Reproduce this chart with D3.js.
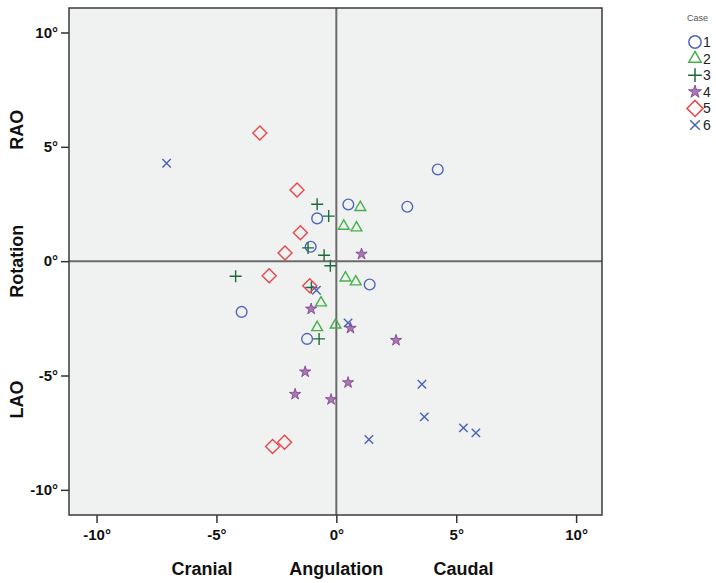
<!DOCTYPE html>
<html>
<head>
<meta charset="utf-8">
<script src="https://cdn.jsdelivr.net/npm/d3@7"></script>
<style>
  body { margin: 0; background: #fff; }
  text { font-family: "Liberation Sans", Arial, sans-serif; }
</style>
</head>
<body>
<div id="scene"></div>
<script>
// angulation (x) / rotation (y) in degrees, per case
var case1 = [[4.23,4.01],[0.5,2.48],[2.96,2.38],[-0.8,1.87],[-1.07,0.63],[1.39,-1.02],[-3.95,-2.22],[-1.22,-3.4]];
var case2 = [[1.0,2.35],[0.31,1.53],[0.84,1.46],[0.38,-0.73],[0.81,-0.9],[-0.64,-1.82],[-0.8,-2.9],[-0.03,-2.79]];
var case3 = [[-0.8,2.49],[-0.32,1.97],[-1.18,0.58],[-0.51,0.26],[-0.25,-0.2],[-4.2,-0.66],[-1.04,-1.15],[-0.72,-3.4]];
var case4 = [[1.05,0.31],[-1.05,-2.09],[0.59,-2.93],[2.49,-3.46],[-1.3,-4.84],[0.49,-5.31],[-1.72,-5.82],[-0.22,-6.05]];
var case5 = [[-3.19,5.6],[-1.64,3.11],[-1.5,1.24],[-2.14,0.36],[-2.8,-0.64],[-1.11,-1.08],[-2.66,-8.1],[-2.16,-7.92]];
var case6 = [[-7.08,4.28],[-0.83,-1.27],[0.49,-2.7],[3.57,-5.38],[3.67,-6.81],[5.3,-7.29],[5.82,-7.51],[1.36,-7.8]];

var caseNames = ["1","2","3","4","5","6"];
var tickValues = [-10,-5,0,5,10];
var xTitles = ["Cranial","Angulation","Caudal"];
var yTitles = ["RAO","Rotation","LAO"];

var ctx = {
  w: 716,
  h: 583,
  left: 69,
  right: 602,
  top: 8,
  bottom: 515
};

var allCases = [case1, case2, case3, case4, case5, case6];

// marker look per case
var markers = [
  {type: d3.symbolCircle, size: 90, color: "#5066b8", fill: "none"},
  {type: d3.symbolTriangle, size: 50, color: "#45b04a", fill: "none"},
  {type: "plus", size: 6, color: "#1d6a3c", fill: "none"},
  {type: d3.symbolStar, size: 40, color: "#7d3a8c", fill: "#a877b4"},
  {type: "diamond", size: 7, color: "#e8474b", fill: "none"},
  {type: "cross", size: 4.2, color: "#4a62b6", fill: "none"}
];

var markerPath = function(m, k) {
  var s = m.size * (k || 1);
  if(m.type === "plus") return "M" + (-s) + ",0H" + s + "M0," + (-s) + "V" + s;
  if(m.type === "cross") return "M" + (-s) + "," + (-s) + "L" + s + "," + s + "M" + (-s) + "," + s + "L" + s + "," + (-s);
  if(m.type === "diamond") return "M0," + (-s) + "L" + s + ",0L0," + s + "L" + (-s) + ",0Z";
  return d3.symbol().type(m.type).size(s * (k || 1))();
};

var svg = d3.select("#scene").append("svg")
  .attr("width", ctx.w)
  .attr("height", ctx.h);

var x = d3.scaleLinear().domain([-11.15, 11.08]).range([ctx.left, ctx.right]);
var y = d3.scaleLinear().domain([-11.1, 11.07]).range([ctx.bottom, ctx.top]);

// plot background
svg.append("rect")
  .attr("x", ctx.left)
  .attr("y", ctx.top)
  .attr("width", ctx.right - ctx.left)
  .attr("height", ctx.bottom - ctx.top)
  .attr("fill", "#f0f1f1");

// axes
var xAxis = svg.append("g")
  .attr("transform", "translate(0," + ctx.bottom + ")")
  .call(d3.axisBottom(x).tickValues(tickValues).tickSize(8).tickPadding(6)
    .tickFormat(function(d) { return d + "°"; }));

var yAxis = svg.append("g")
  .attr("transform", "translate(" + ctx.left + ",0)")
  .call(d3.axisLeft(y).tickValues(tickValues).tickSize(8).tickPadding(3)
    .tickFormat(function(d) { return d + "°"; }));

[xAxis, yAxis].forEach(function(a) {
  a.select(".domain").remove();
  a.selectAll("line").attr("stroke", "#333").attr("stroke-width", 1.5);
  a.selectAll("text")
    .attr("fill", "#111")
    .style("font-size", "15px")
    .style("font-weight", "bold");
});

// zero reference lines
svg.append("line")
  .attr("x1", x(0)).attr("x2", x(0))
  .attr("y1", ctx.top).attr("y2", ctx.bottom)
  .attr("stroke", "#6b6b6b").attr("stroke-width", 2);
svg.append("line")
  .attr("x1", ctx.left).attr("x2", ctx.right)
  .attr("y1", y(0)).attr("y2", y(0))
  .attr("stroke", "#6b6b6b").attr("stroke-width", 2);

// frame
svg.append("rect")
  .attr("x", ctx.left)
  .attr("y", ctx.top)
  .attr("width", ctx.right - ctx.left)
  .attr("height", ctx.bottom - ctx.top)
  .attr("fill", "none")
  .attr("stroke", "#3a3a3a")
  .attr("stroke-width", 1.5);

// points
for(var i = 0; i < allCases.length; i++) {
  svg.append("g")
    .selectAll("path")
    .data(allCases[i])
    .enter()
    .append("path")
    .attr("transform", function(d) { return "translate(" + x(d[0]) + "," + y(d[1]) + ")"; })
    .attr("d", markerPath(markers[i]))
    .attr("fill", markers[i].fill)
    .attr("stroke", markers[i].color)
    .attr("stroke-width", i === 3 ? 0.8 : 1.4);
}

// axis titles
var xt = [x(-5.6), x(0), x(5.3)];
svg.selectAll(".xtitle")
  .data(xTitles)
  .enter()
  .append("text")
  .attr("x", function(d, i) { return xt[i]; })
  .attr("y", 575)
  .attr("text-anchor", "middle")
  .style("font-size", "18px")
  .style("font-weight", "bold")
  .attr("fill", "#111")
  .text(function(d) { return d; });

var yt = [y(5.75), y(0), y(-6.05)];
svg.selectAll(".ytitle")
  .data(yTitles)
  .enter()
  .append("text")
  .attr("transform", function(d, i) { return "translate(23," + yt[i] + ") rotate(-90)"; })
  .attr("text-anchor", "middle")
  .style("font-size", "18px")
  .style("font-weight", "bold")
  .attr("fill", "#111")
  .text(function(d) { return d; });

// legend
svg.append("text")
  .attr("x", 687)
  .attr("y", 21)
  .style("font-size", "9px")
  .attr("fill", "#555")
  .text("Case");

var lg = svg.append("g");
for(var i = 0; i < caseNames.length; i++) {
  var ly = 42 + i * 16.6;
  lg.append("path")
    .attr("transform", "translate(695," + ly + ")")
    .attr("d", markerPath(markers[i], 1.15))
    .attr("fill", markers[i].fill)
    .attr("stroke", markers[i].color)
    .attr("stroke-width", i === 3 ? 0.8 : 1.5);
  lg.append("text")
    .attr("x", 703)
    .attr("y", ly + 5)
    .style("font-size", "14px")
    .attr("fill", "#222")
    .text(caseNames[i]);
}
</script>
</body>
</html>
